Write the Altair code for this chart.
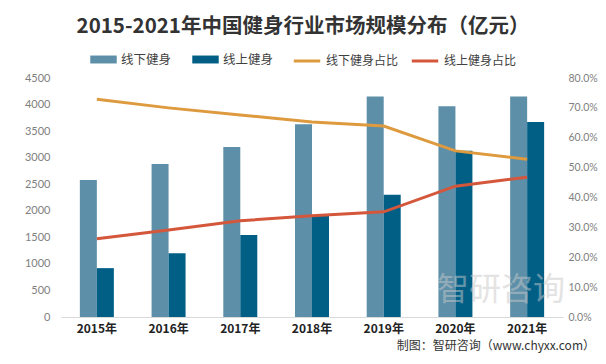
import altair as alt
import pandas as pd

years = ["2015年", "2016年", "2017年", "2018年", "2019年", "2020年", "2021年"]
bar_series = ["线下健身", "线上健身"]
line_series = ["线下健身占比", "线上健身占比"]
offline = [2580, 2880, 3200, 3630, 4150, 3970, 4150]
online = [920, 1200, 1545, 1900, 2300, 3130, 3670]
offline_share = [0.729, 0.700, 0.676, 0.653, 0.639, 0.556, 0.528]
online_share = [0.262, 0.291, 0.322, 0.339, 0.352, 0.438, 0.468]
left_ticks = [0, 500, 1000, 1500, 2000, 2500, 3000, 3500, 4000, 4500]
right_ticks = [0, 0.1, 0.2, 0.3, 0.4, 0.5, 0.6, 0.7, 0.8]
title_text = "2015-2021年中国健身行业市场规模分布（亿元）"
footnote = "制图：智研咨询（www.chyxx.com）"

bar_df = pd.DataFrame({
    "year": years * 2,
    "series": [bar_series[0]] * len(years) + [bar_series[1]] * len(years),
    "value": offline + online,
})
line_df = pd.DataFrame({
    "year": years * 2,
    "series": [line_series[0]] * len(years) + [line_series[1]] * len(years),
    "share": offline_share + online_share,
})

FONT = "Lato, Noto Sans CJK SC, sans-serif"
CJK = "Noto Sans CJK SC, sans-serif"

x_enc = alt.X(
    "year:N", sort=years, title=None,
    scale=alt.Scale(paddingInner=0.526, paddingOuter=0.263),
    axis=alt.Axis(labelAngle=0, labelFontWeight="bold", labelFontSize=12,
                  labelColor="#222222", labelFont=CJK, domainColor="#d9d9d9",
                  ticks=False, labelPadding=6),
)

bars = alt.Chart(bar_df).mark_bar().encode(
    x=x_enc,
    xOffset=alt.XOffset("series:N", sort=bar_series, scale=alt.Scale(paddingInner=0, paddingOuter=0)),
    y=alt.Y("value:Q", scale=alt.Scale(domain=[0, 4500]),
            axis=alt.Axis(values=left_ticks, format="d", grid=False, domain=False, ticks=False,
                          labelColor="#7f7f7f", labelFontSize=11, labelFont=FONT,
                          title=None, labelPadding=11)),
    color=alt.Color("series:N", sort=bar_series,
                    scale=alt.Scale(domain=bar_series, range=["#5d8fa8", "#015f86"]),
                    legend=alt.Legend(orient="none", legendX=29, legendY=-32, direction="horizontal",
                                      title=None, symbolType="M-1,-0.3L1,-0.3L1,0.3L-1,0.3Z",
                                      symbolSize=700, symbolStrokeWidth=0, labelFontSize=12.5,
                                      labelFont=CJK, labelColor="#404040", columnPadding=20,
                                      labelOffset=4)),
)

lines = alt.Chart(line_df).mark_line(strokeWidth=3).encode(
    x=x_enc,
    y=alt.Y("share:Q", scale=alt.Scale(domain=[0, 0.8]),
            axis=alt.Axis(orient="right", format=".1%", values=right_ticks, grid=False,
                          domain=False, ticks=False, labelColor="#7f7f7f", labelFontSize=10.5,
                          labelFont=FONT, title=None, labelPadding=5)),
    color=alt.Color("series:N", sort=line_series,
                    scale=alt.Scale(domain=line_series, range=["#de9a3e", "#d4573b"]),
                    legend=alt.Legend(orient="none", legendX=231, legendY=-32, direction="horizontal",
                                      title=None, symbolType="stroke", symbolSize=700,
                                      symbolStrokeWidth=3, labelFontSize=12, labelFont=CJK,
                                      labelColor="#404040", columnPadding=6, labelOffset=4)),
)

note = alt.Chart(pd.DataFrame({"t": [footnote]})).mark_text(
    align="right", baseline="middle", fontSize=12, font=CJK, color="#333333"
).encode(x=alt.value(534), y=alt.value(268), text="t:N")

mark_df = pd.DataFrame({"t": ["智研咨询"]})
watermark = alt.Chart(mark_df).mark_text(
    align="left", baseline="middle", fontSize=32, font=CJK, color="#c8c8c8", opacity=0.5
).encode(x=alt.value(376), y=alt.value(212), text="t:N")

chart = alt.layer(bars, lines, watermark, note).resolve_scale(
    y="independent", color="independent"
).properties(
    width=502, height=239,
    title=alt.Title(title_text, fontSize=20.5, fontWeight="bold", color="#333333",
                    font=CJK, anchor="middle", dx=-9, offset=9),
    autosize=alt.AutoSizeParams(type="none"),
    padding={"left": 53, "top": 70, "right": 35, "bottom": 39},
).configure_view(stroke=None)

chart.save("out.html", embed_options={"renderer": "svg", "actions": False})
